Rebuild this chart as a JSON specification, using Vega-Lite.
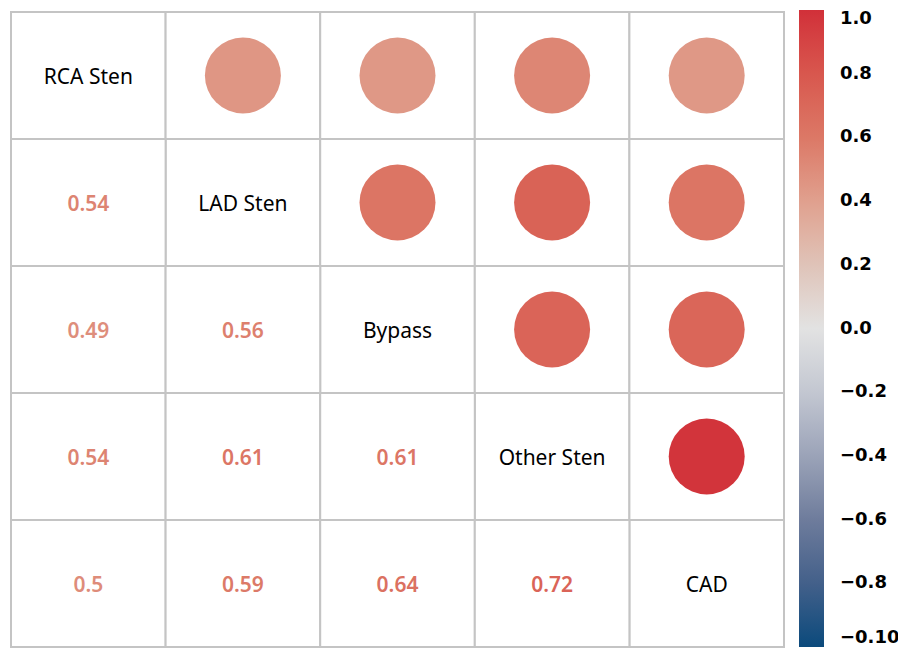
{
  "$schema": "https://vega.github.io/schema/vega-lite/v6.json",
  "width": 773,
  "height": 635,
  "padding": {"left": 10, "top": 10, "right": 0, "bottom": 0},
  "background": "white",
  "config": {"view": {"stroke": null}},
  "data": {
    "values": [
      {"row": "RCA Sten", "col": "RCA Sten", "kind": "diag", "label": "RCA Sten", "r": 1},
      {"row": "LAD Sten", "col": "LAD Sten", "kind": "diag", "label": "LAD Sten", "r": 1},
      {"row": "Bypass", "col": "Bypass", "kind": "diag", "label": "Bypass", "r": 1},
      {"row": "Other Sten", "col": "Other Sten", "kind": "diag", "label": "Other Sten", "r": 1},
      {"row": "CAD", "col": "CAD", "kind": "diag", "label": "CAD", "r": 1},
      {"row": "LAD Sten", "col": "RCA Sten", "kind": "num", "label": "0.54", "r": 0.54},
      {"row": "Bypass", "col": "RCA Sten", "kind": "num", "label": "0.49", "r": 0.49},
      {"row": "Bypass", "col": "LAD Sten", "kind": "num", "label": "0.56", "r": 0.56},
      {"row": "Other Sten", "col": "RCA Sten", "kind": "num", "label": "0.54", "r": 0.54},
      {"row": "Other Sten", "col": "LAD Sten", "kind": "num", "label": "0.61", "r": 0.61},
      {"row": "Other Sten", "col": "Bypass", "kind": "num", "label": "0.61", "r": 0.61},
      {"row": "CAD", "col": "RCA Sten", "kind": "num", "label": "0.5", "r": 0.5},
      {"row": "CAD", "col": "LAD Sten", "kind": "num", "label": "0.59", "r": 0.59},
      {"row": "CAD", "col": "Bypass", "kind": "num", "label": "0.64", "r": 0.64},
      {"row": "CAD", "col": "Other Sten", "kind": "num", "label": "0.72", "r": 0.72},
      {"row": "RCA Sten", "col": "LAD Sten", "kind": "circle", "label": "", "r": 0.45},
      {"row": "RCA Sten", "col": "Bypass", "kind": "circle", "label": "", "r": 0.44},
      {"row": "RCA Sten", "col": "Other Sten", "kind": "circle", "label": "", "r": 0.53},
      {"row": "RCA Sten", "col": "CAD", "kind": "circle", "label": "", "r": 0.44},
      {"row": "LAD Sten", "col": "Bypass", "kind": "circle", "label": "", "r": 0.62},
      {"row": "LAD Sten", "col": "Other Sten", "kind": "circle", "label": "", "r": 0.73},
      {"row": "LAD Sten", "col": "CAD", "kind": "circle", "label": "", "r": 0.62},
      {"row": "Bypass", "col": "Other Sten", "kind": "circle", "label": "", "r": 0.72},
      {"row": "Bypass", "col": "CAD", "kind": "circle", "label": "", "r": 0.71},
      {"row": "Other Sten", "col": "CAD", "kind": "circle", "label": "", "r": 0.98}
    ]
  },
  "encoding": {
    "x": {"field": "col", "type": "nominal", "sort": ["RCA Sten", "LAD Sten", "Bypass", "Other Sten", "CAD"], "axis": null, "scale": {"paddingInner": 0, "paddingOuter": 0}},
    "y": {"field": "row", "type": "nominal", "sort": ["RCA Sten", "LAD Sten", "Bypass", "Other Sten", "CAD"], "axis": null, "scale": {"paddingInner": 0, "paddingOuter": 0}}
  },
  "layer": [
    {"mark": {"type": "rect", "fill": "white", "stroke": "#c4c4c4", "strokeWidth": 2}},
    {
      "transform": [{"filter": "datum.kind == 'circle'"}],
      "mark": {"type": "circle", "size": 5776, "opacity": 1},
      "encoding": {
        "color": {
          "field": "r", "type": "quantitative",
          "scale": {
            "domain": [-1, -0.8, -0.6, -0.4, -0.2, 0, 0.2, 0.4, 0.6, 0.8, 1],
            "range": ["#0b4a7c", "#43608a", "#6e7c9c", "#9ba3b8", "#c3c7d1", "#e2e2e2", "#dfc3b8", "#e0a08e", "#dc7866", "#d8574e", "#d13039"],
            "interpolate": "rgb"
          },
          "legend": {
            "title": null,
            "orient": "none",
            "direction": "vertical",
            "legendX": 788,
            "legendY": -2,
            "gradientLength": 637,
            "gradientThickness": 25,
            "gradientStrokeWidth": 0,
            "values": [1, 0.8, 0.6, 0.4, 0.2, 0, -0.2, -0.4, -0.6, -0.8, -1],
            "labelFont": "DejaVu Sans",
            "labelFontSize": 18,
            "labelFontWeight": "bold",
            "labelColor": "black",
            "labelOffset": 16,
            "labelAlign": "left",
            "labelOverlap": false,
            "labelExpr": "datum.value < -0.95 ? '−0.10' : datum.value < -0.01 ? '−' + format(-datum.value, '.1f') : format(datum.value, '.1f')"
          }
        }
      }
    },
    {
      "transform": [{"filter": "datum.kind == 'num'"}],
      "mark": {"type": "text", "font": "Noto Sans", "fontSize": 21, "fontWeight": 600, "dy": 2},
      "encoding": {
        "text": {"field": "label", "type": "nominal"},
        "color": {"field": "r", "type": "quantitative"}
      }
    },
    {
      "transform": [{"filter": "datum.kind == 'diag'"}],
      "mark": {"type": "text", "font": "Noto Sans", "fontSize": 21, "color": "black", "dy": 2},
      "encoding": {
        "text": {"field": "label", "type": "nominal"}
      }
    }
  ]
}
